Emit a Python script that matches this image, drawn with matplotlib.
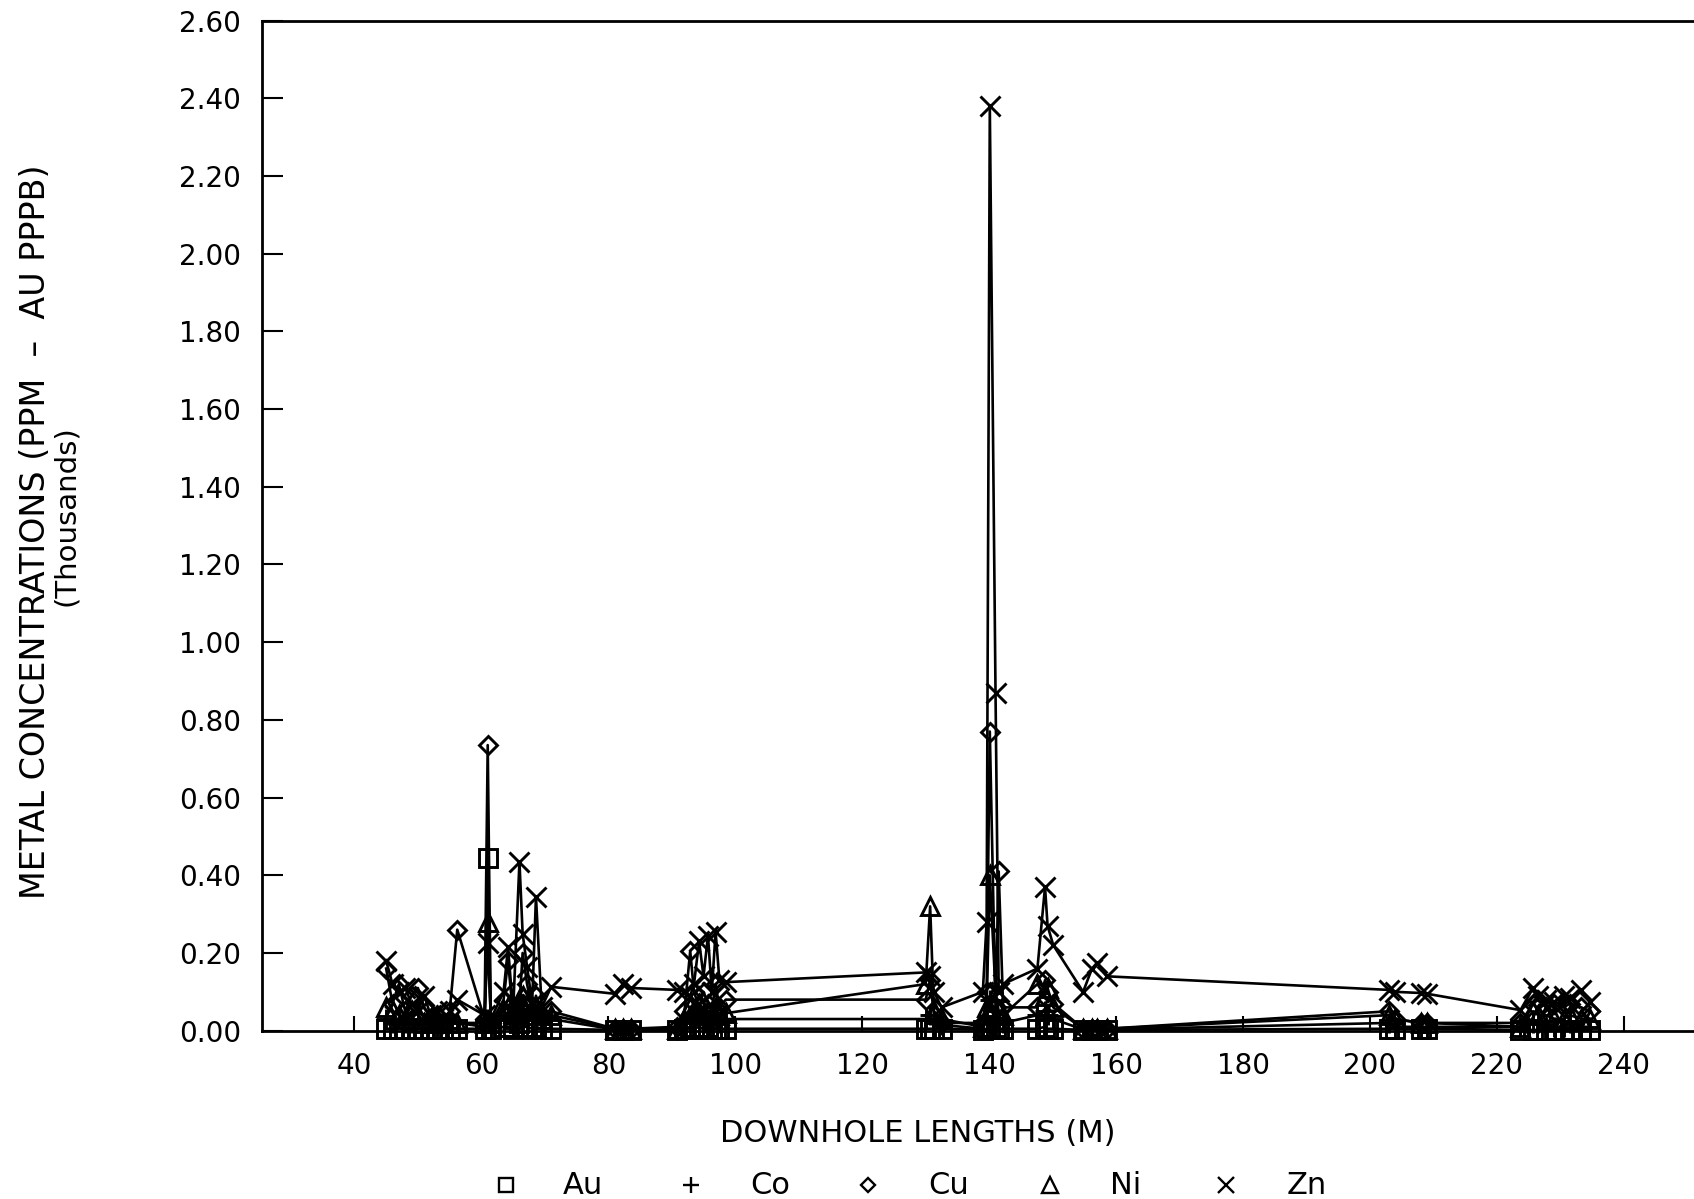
import numpy as np
import matplotlib
matplotlib.use("Agg")
import matplotlib.pyplot as plt
from matplotlib.lines import Line2D

# ---------------- data (values in thousands) ----------------
depth = [45.0, 46.0, 47.0, 48.0, 49.0, 50.0, 51.0, 52.0, 53.0, 54.0, 55.0, 56.2,
         60.5, 61.0, 61.5, 63.5, 64.2, 65.0, 66.0, 66.5, 67.2, 68.0, 68.6, 69.5, 71.0,
         81.0, 82.3, 83.5,
         90.8, 92.0, 92.9, 93.5, 94.3, 95.0, 95.7, 96.3, 96.9, 97.5, 98.5,
         130.0, 130.7, 131.3, 132.5,
         139.0, 139.6, 140.1, 141.0, 141.5, 142.2,
         147.6, 148.8, 149.2, 150.1,
         154.8, 156.2, 157.0, 158.5,
         203.0, 204.0, 208.0, 209.0,
         223.7, 225.7, 226.5, 227.7, 229.0, 230.5, 231.5, 233.3, 234.6]

au = [0.005, 0.005, 0.005, 0.005, 0.005, 0.005, 0.005, 0.005, 0.005, 0.005, 0.005, 0.005,
      0.005, 0.445, 0.005, 0.01, 0.01, 0.005, 0.02, 0.01, 0.01, 0.005, 0.01, 0.005, 0.005,
      0.002, 0.002, 0.002,
      0.002, 0.005, 0.01, 0.005, 0.01, 0.005, 0.01, 0.005, 0.005, 0.005, 0.005,
      0.005, 0.005, 0.005, 0.005,
      0.003, 0.005, 0.01, 0.01, 0.005, 0.005,
      0.005, 0.01, 0.005, 0.005,
      0.002, 0.002, 0.002, 0.002,
      0.005, 0.005, 0.005, 0.005,
      0.002, 0.002, 0.002, 0.002, 0.002, 0.002, 0.002, 0.002, 0.002]

co = [0.03, 0.02, 0.03, 0.02, 0.02, 0.03, 0.02, 0.02, 0.01, 0.02, 0.02, 0.02,
      0.01, 0.03, 0.01, 0.03, 0.04, 0.02, 0.05, 0.04, 0.03, 0.03, 0.04, 0.02, 0.03,
      0.003, 0.003, 0.003,
      0.003, 0.02, 0.03, 0.03, 0.04, 0.02, 0.03, 0.02, 0.03, 0.02, 0.03,
      0.03, 0.04, 0.02, 0.015,
      0.005, 0.03, 0.08, 0.05, 0.03, 0.02,
      0.04, 0.05, 0.04, 0.03,
      0.003, 0.003, 0.003, 0.003,
      0.02, 0.01, 0.01, 0.01,
      0.01, 0.02, 0.02, 0.01, 0.01, 0.01, 0.02, 0.01, 0.01]

cu = [0.16, 0.07, 0.12, 0.05, 0.09, 0.11, 0.06, 0.03, 0.04, 0.02, 0.05, 0.26,
      0.03, 0.735, 0.02, 0.08, 0.18, 0.04, 0.06, 0.20, 0.12, 0.05, 0.09, 0.04, 0.05,
      0.005, 0.005, 0.005,
      0.01, 0.05, 0.205, 0.10, 0.06, 0.10, 0.07, 0.05, 0.12, 0.06, 0.08,
      0.08, 0.13, 0.04, 0.02,
      0.02, 0.10, 0.77, 0.06, 0.41, 0.06,
      0.06, 0.13, 0.10, 0.07,
      0.005, 0.005, 0.005, 0.005,
      0.05, 0.03, 0.02, 0.02,
      0.02, 0.07, 0.08, 0.06, 0.07, 0.06, 0.07, 0.06, 0.05]

ni = [0.06, 0.05, 0.04, 0.03, 0.05, 0.04, 0.02, 0.03, 0.02, 0.02, 0.03, 0.02,
      0.02, 0.28, 0.02, 0.05, 0.06, 0.03, 0.08, 0.09, 0.07, 0.04, 0.06, 0.03, 0.04,
      0.005, 0.005, 0.005,
      0.005, 0.03, 0.06, 0.05, 0.07, 0.04, 0.05, 0.03, 0.06, 0.04, 0.045,
      0.12, 0.32, 0.05, 0.03,
      0.01, 0.06, 0.40, 0.10, 0.05, 0.04,
      0.12, 0.09, 0.11, 0.06,
      0.005, 0.005, 0.005, 0.005,
      0.04, 0.03, 0.02, 0.02,
      0.01, 0.05, 0.04, 0.04, 0.03, 0.03, 0.04, 0.03, 0.03]

zn = [0.18, 0.12, 0.10, 0.11, 0.07, 0.05, 0.09, 0.04, 0.05, 0.03, 0.05, 0.08,
      0.04, 0.225, 0.03, 0.10, 0.215, 0.05, 0.435, 0.25, 0.165, 0.07, 0.345, 0.06, 0.113,
      0.095, 0.12, 0.11,
      0.105, 0.10, 0.09, 0.12, 0.23, 0.14, 0.245, 0.10, 0.255, 0.13, 0.125,
      0.15, 0.14, 0.10, 0.06,
      0.10, 0.28, 2.38, 0.87, 0.10, 0.12,
      0.16, 0.37, 0.27, 0.22,
      0.10, 0.16, 0.175, 0.14,
      0.105, 0.10, 0.097, 0.095,
      0.053, 0.11, 0.09, 0.08, 0.075, 0.09, 0.085, 0.105, 0.075]

series_names = ["Au", "Co", "Cu", "Ni", "Zn"]
x_ticks = [40, 60, 80, 100, 120, 140, 160, 180, 200, 220, 240]
y_ticks = [0.0, 0.2, 0.4, 0.6, 0.8, 1.0, 1.2, 1.4, 1.6, 1.8, 2.0, 2.2, 2.4, 2.6]

# ---------------- figure ----------------
W, H = 1694, 1199
fig = plt.figure(figsize=(W / 100, H / 100), dpi=100)
fig.patch.set_facecolor("white")

ax_left, ax_bottom_px, ax_top_px = 262, 1030.7, 20.5
ax = fig.add_axes([ax_left / W, (H - ax_bottom_px) / H,
                   (W - ax_left) / W, (ax_bottom_px - ax_top_px) / H])
ax.set_xlim(25.44, 251.04)
ax.set_ylim(0, 2.6)

styles = {
    "Au": dict(marker="s", ms=12.5),
    "Co": dict(marker="+", ms=14),
    "Cu": dict(marker="D", ms=9),
    "Ni": dict(marker="^", ms=13),
    "Zn": dict(marker="x", ms=15),
}
data = {"Au": au, "Co": co, "Cu": cu, "Ni": ni, "Zn": zn}
for name in series_names:
    ax.plot(depth, data[name], color="black", lw=1.9, mfc="none", mec="black",
            mew=2.1, clip_on=False, zorder=3, **styles[name])

for s in ["left", "top", "bottom"]:
    ax.spines[s].set_linewidth(2.0)
ax.spines["right"].set_visible(False)

tick_font = dict(family="DejaVu Sans", size=20)
ax.set_xticks(x_ticks)
ax.set_xticklabels([str(v) for v in x_ticks], **tick_font)
ax.set_yticks(y_ticks)
ax.set_yticklabels([f"{v:.2f}" for v in y_ticks], **tick_font)
ax.tick_params(axis="x", direction="in", length=11, width=1.5, pad=15)
ax.tick_params(axis="y", direction="in", length=15, width=1.5, pad=15)

lab_font = dict(family="DejaVu Sans", size=22)
fig.text(36 / W, 1 - 532 / H, "METAL CONCENTRATIONS (PPM  \u2013  AU PPPB)",
         rotation=90, ha="center", va="center", family="DejaVu Sans", size=24)
fig.text(66 / W, 1 - 516 / H, "(Thousands)", rotation=90,
         ha="center", va="center", family="DejaVu Sans", size=21)
fig.text(918 / W, 1 - 1134 / H, "DOWNHOLE LENGTHS (M)", ha="center",
         va="center", **lab_font)

# legend row
leg_y = 1 - 1185 / H
mark_x = [506, 691, 868, 1050, 1226]
text_x = [583, 770, 949, 1126, 1307]
leg_ms = {"Au": 10, "Co": 12, "Cu": 7.5, "Ni": 11, "Zn": 12}
for name, mx, tx in zip(series_names, mark_x, text_x):
    st = styles[name]
    fig.add_artist(Line2D([mx / W], [leg_y], transform=fig.transFigure,
                          marker=st["marker"], ms=leg_ms[name], mfc="none",
                          mec="black", mew=1.7, ls="none"))
    fig.text(tx / W, leg_y, name, ha="center", va="center", **lab_font)

fig.savefig("out.png", dpi=100, facecolor="white")
